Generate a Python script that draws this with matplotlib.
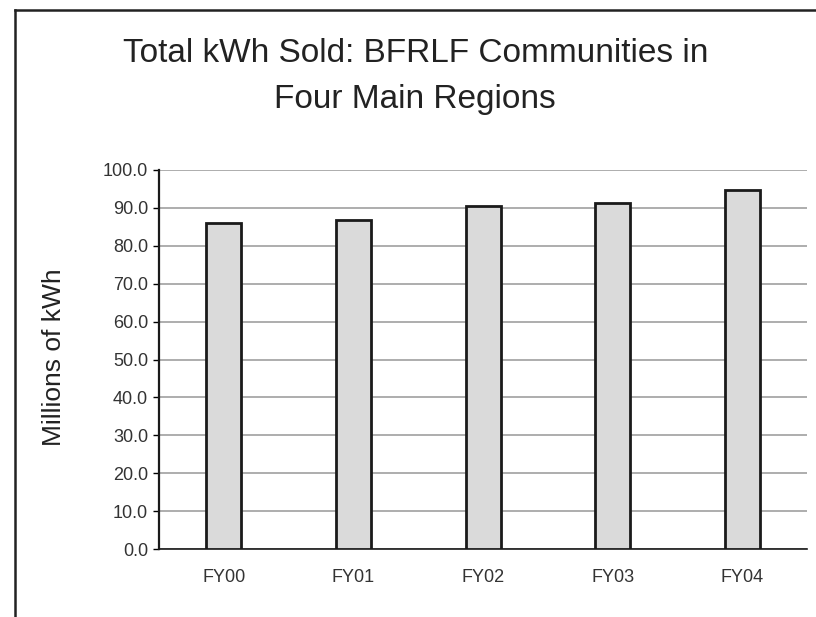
import matplotlib
matplotlib.use("Agg")
import matplotlib.pyplot as plt
from matplotlib.lines import Line2D

plt.rcParams['font.family'] = ['Liberation Sans', 'DejaVu Sans']

categories = ["FY00", "FY01", "FY02", "FY03", "FY04"]
kwh_millions = [85.9, 86.8, 90.6, 91.4, 94.7]
y_ticks = [0, 10, 20, 30, 40, 50, 60, 70, 80, 90, 100]

fig = plt.figure(figsize=(8.16, 6.17), dpi=100)
fig.patch.set_facecolor("white")

ax = fig.add_axes([0.195, 0.110, 0.794, 0.6145])
x = range(len(categories))
ax.bar(x, kwh_millions, width=0.27, color="#dadada", edgecolor="#1a1a1a",
       linewidth=2.0, zorder=3)

ax.set_xlim(-0.5, len(categories) - 0.5)
ax.set_ylim(0, 100)
ax.set_yticks(y_ticks)
ax.set_yticklabels([f"{v:.1f}" for v in y_ticks], fontsize=13, color="#333333")
ax.set_xticks(list(x))
ax.set_xticklabels(categories, fontsize=13, color="#333333")
ax.tick_params(axis="x", length=0, pad=14)
ax.tick_params(axis="y", length=4, width=1, pad=4, direction="out")

ax.yaxis.grid(True, color="#a0a0a0", linewidth=1.2, zorder=0)
ax.set_axisbelow(True)
for side in ("top", "right"):
    ax.spines[side].set_visible(False)
ax.spines["left"].set_color("#1a1a1a")
ax.spines["left"].set_linewidth(1.6)
ax.spines["bottom"].set_color("#1a1a1a")
ax.spines["bottom"].set_linewidth(1.2)

fig.text(0.066, 0.421, "Millions of kWh", rotation=90, ha="center",
         va="center", fontsize=19, color="#222222")

fig.text(0.509, 0.914, "Total kWh Sold: BFRLF Communities in",
         ha="center", va="center", fontsize=24, color="#222222")
fig.text(0.509, 0.838, "Four Main Regions",
         ha="center", va="center", fontsize=24, color="#222222")

# Frame lines along the top and left edges of the chart area
fig.add_artist(Line2D([15 / 816, 1.0], [1 - 10 / 617, 1 - 10 / 617],
                      transform=fig.transFigure, color="#222222", linewidth=1.8))
fig.add_artist(Line2D([15 / 816, 15 / 816], [0.0, 1 - 10 / 617],
                      transform=fig.transFigure, color="#222222", linewidth=1.8))

fig.savefig("out.png", dpi=100, facecolor="white")
